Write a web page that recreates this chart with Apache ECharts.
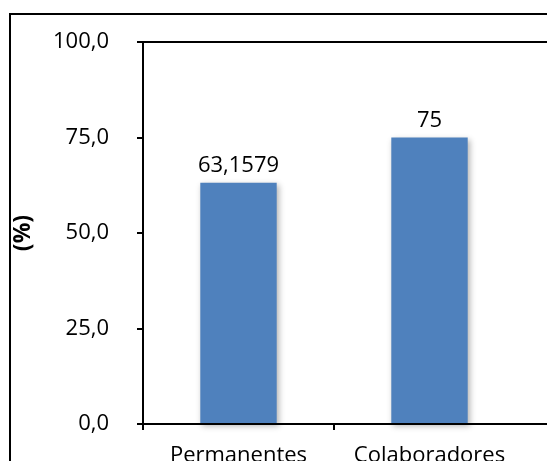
<!DOCTYPE html>
<html>
<head>
<meta charset="utf-8">
<script src="https://cdn.jsdelivr.net/npm/echarts@6/dist/echarts.min.js"></script>
<style>
html,body{margin:0;padding:0;background:#fff;}
#chart{width:547px;height:461px;}
</style>
</head>
<body>
<div id="chart"></div>
<script>
const categories = ['Permanentes', 'Colaboradores'];
const values = [63.1579, 75];
const yTicks = [0, 25, 50, 75, 100];
const yAxisName = '(%)';

const FONT = '"Open Sans", sans-serif';
const chart = echarts.init(document.getElementById('chart'), null, {renderer: 'canvas'});

const option = {
  animation: false,
  backgroundColor: '#ffffff',
  grid: {left: 143, top: 42, right: 22, bottom: 37, containLabel: false, outerBoundsMode: 'none'},
  xAxis: {
    type: 'category',
    data: categories,
    axisLine: {show: true, lineStyle: {color: '#000', width: 2}},
    axisTick: {show: false},
    axisLabel: {color: '#000', fontFamily: FONT, fontSize: 22, margin: 21, interval: 0, hideOverlap: false}
  },
  yAxis: {
    type: 'value',
    min: yTicks[0],
    max: yTicks[yTicks.length - 1],
    interval: yTicks[1] - yTicks[0],
    name: yAxisName,
    nameLocation: 'middle',
    nameGap: 108,
    nameRotate: 90,
    nameTextStyle: {color: '#000', fontFamily: FONT, fontSize: 23, fontWeight: 'bold'},
    axisLine: {show: true, lineStyle: {color: '#000', width: 2}},
    axisTick: {show: true, length: 6, lineStyle: {color: '#000', width: 2}},
    splitLine: {show: false},
    axisLabel: {
      color: '#000', fontFamily: FONT, fontSize: 22, margin: 34,
      formatter: v => v.toFixed(1).replace('.', ',')
    }
  },
  series: [{
    type: 'bar',
    data: values,
    barWidth: '40%',
    itemStyle: {
      color: '#4F81BD',
      shadowBlur: 6,
      shadowColor: 'rgba(0,0,0,0.3)',
      shadowOffsetX: 2,
      shadowOffsetY: 2
    },
    label: {
      show: true,
      position: 'top',
      distance: 6,
      color: '#000',
      fontFamily: FONT,
      fontSize: 22,
      formatter: p => String(p.value).replace('.', ',')
    }
  }]
};
chart.setOption(option);

const yTop = chart.convertToPixel({yAxisIndex: 0}, yTicks[yTicks.length - 1]);
const yBot = chart.convertToPixel({yAxisIndex: 0}, yTicks[0]);
const c0 = chart.convertToPixel({xAxisIndex: 0}, 0);
const c1 = chart.convertToPixel({xAxisIndex: 0}, 1);
const band = c1 - c0;
const W = chart.getWidth();
const graphics = [
  {type: 'line', shape: {x1: 137, y1: yTop, x2: W, y2: yTop}, style: {stroke: '#000', lineWidth: 2}, z: 10},
  {type: 'line', shape: {x1: 143, y1: yBot, x2: W, y2: yBot}, style: {stroke: '#000', lineWidth: 2}, z: 10},
  {type: 'rect', shape: {x: 10, y: 14, width: W + 50, height: chart.getHeight() + 50}, style: {fill: 'none', stroke: '#000', lineWidth: 2}, z: 10}
];
for (let i = 0; i < categories.length; i++) {
  const x = Math.round(c0 + band * (i - 0.5));
  graphics.push({type: 'line', shape: {x1: x, y1: yBot, x2: x, y2: yBot + 6}, style: {stroke: '#000', lineWidth: 2}, z: 10});
}
chart.setOption({graphic: graphics});
</script>
</body>
</html>
